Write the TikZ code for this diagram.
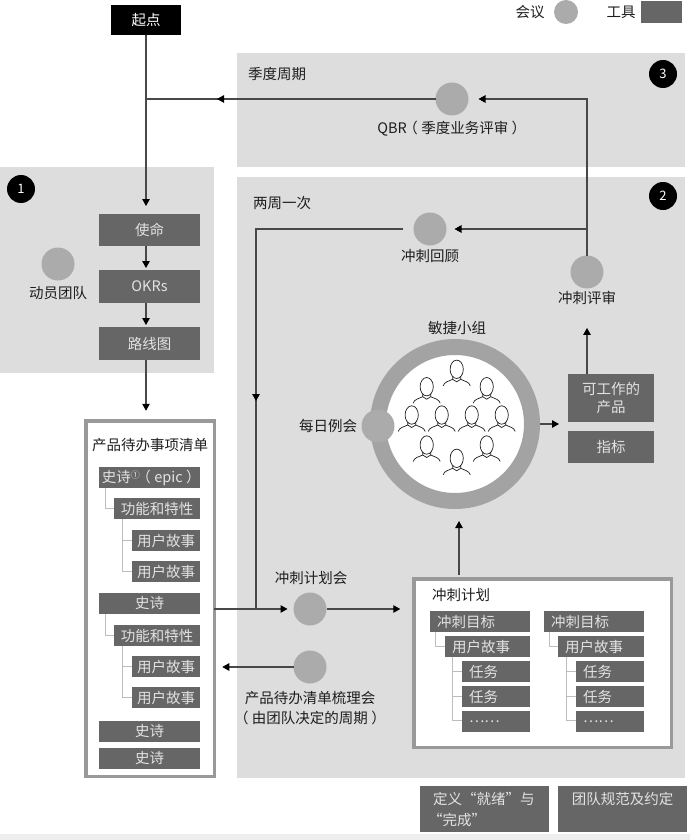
\documentclass[tikz,border=0pt]{standalone}
\usepackage{fontspec}
\setmainfont{Noto Sans CJK SC}
\usetikzlibrary{arrows.meta,calc}
\definecolor{regionc}{HTML}{DDDDDD}
\definecolor{toolc}{HTML}{666666}
\definecolor{meetc}{HTML}{ABABAB}
\definecolor{ringc}{HTML}{A3A3A3}
\definecolor{framec}{HTML}{999999}
\definecolor{treec}{HTML}{BDBDBD}
\definecolor{linec}{HTML}{484848}
\definecolor{inkc}{HTML}{1E1E1E}
\definecolor{paleTxt}{HTML}{E2E2E2}
\definecolor{stripc}{HTML}{EEEEEE}
\newcommand\lpar{\kern-3.5pt（\kern3.5pt}
\newcommand\rpar{\kern3.5pt）\kern-3.5pt}
\tikzset{
  region/.style={fill=regionc,draw=none},
  toolbox/.style={fill=toolc,draw=none,text=paleTxt,font=\fontsize{14.5}{18}\selectfont,inner sep=0pt,outer sep=0pt,align=center},
  meeting/.style={circle,fill=meetc,draw=none,minimum size=33pt,inner sep=0pt,outer sep=0pt},
  lab/.style={text=inkc,font=\fontsize{14.5}{20}\selectfont,inner sep=0pt,align=center},
  badge/.style={circle,fill=black,text=white,minimum size=28pt,inner sep=0pt,font=\fontsize{13}{13}\selectfont},
  frame/.style={draw=framec,line width=3.5pt,fill=white},
  conn/.style={draw=linec,line width=1.1pt},
  arrowconn/.style={conn,-{Triangle[length=7pt,width=7.5pt,color=black]}},
  treeline/.style={draw=treec,line width=0.9pt},
  personline/.style={draw=inkc,line width=0.7pt}
}
% name, x1, y1, x2, y2, text
\newcommand\cbox[6]{\node[toolbox,minimum width={(#4-#2)*1pt},minimum height={(#5-#3)*1pt}] (#1) at ({(#2+#4)/2},{(#3+#5)/2}) {#6};}
\newcommand\lbox[6]{\node[toolbox,align=left,text width={(#4-#2-14)*1pt},inner xsep=7pt,minimum height={(#5-#3)*1pt}] (#1) at ({(#2+#4)/2},{(#3+#5)/2}) {#6};}
\newcommand\personat[2]{\begin{scope}[shift={(#1,#2)}]
  \draw[personline] (0,0) ellipse (6.6 and 9.2);
  \draw[personline] (-13.5,16.5) .. controls (-12.5,12.5) and (-8,12) .. (-4,10) -- (-4,7);
  \draw[personline] (13.5,16.5) .. controls (12.5,12.5) and (8,12) .. (4,10) -- (4,7);
  \draw[personline] (-4,10) -- (0,12.5) -- (4,10);
\end{scope}}
\begin{document}
\begin{tikzpicture}[x=1pt,y=-1pt]
\useasboundingbox (0,0) rectangle (690,840);
\fill[white] (0,0) rectangle (690,840);
\fill[stripc] (0,834) rectangle (690,840);
% regions
\fill[region] (0,167) rectangle (214,373);
\fill[region] (237,53) rectangle (685,167);
\fill[region] (237,177) rectangle (685,778);
% legend
\node[lab] (legM) at (530,12) {会议};
\node[meeting,minimum size=24pt] (legC) at (566,12) {};
\node[lab] (legT) at (621,12) {工具};
\node[fill=toolc,minimum width=41pt,minimum height=22pt,inner sep=0pt,outer sep=0pt] (legB) at (661.5,12) {};
% badges
\node[badge] (b1) at (21,189) {1};
\node[badge] (b2) at (663,196) {2};
\node[badge] (b3) at (663,74) {3};
\node[lab,anchor=west] (q) at (248,74) {季度周期};
\node[lab,anchor=west] (biw) at (253,203) {两周一次};
% start and region 1
\node[fill=black,text=white,font=\fontsize{14.5}{18}\selectfont,minimum width=70pt,minimum height=30pt,inner sep=0pt,outer sep=0pt] (start) at (146,20) {起点};
\cbox{mission}{99}{214}{200}{246}{使命}
\cbox{okrs}{99}{270}{200}{303}{OKRs}
\cbox{roadmap}{99}{327}{200}{360}{路线图}
\node[meeting] (kick) at (58,264) {};
\node[lab] (kickL) at (58,293) {动员团队};
% meetings
\node[meeting] (qbr) at (452,99) {};
\node[lab] (qbrL) at (450,129) {QBR\lpar 季度业务评审\rpar};
\node[meeting] (retro) at (430,229) {};
\node[lab] (retroL) at (430,256) {冲刺回顾};
\node[meeting] (review) at (587,272) {};
\node[lab] (reviewL) at (587,298) {冲刺评审};
\node[meeting] (plan) at (310,609) {};
\node[lab] (planL) at (311,578) {冲刺计划会};
\node[meeting] (refine) at (310,667) {};
\node[lab] (refineL) at (310,708) {产品待办清单梳理会\\\lpar 由团队决定的周期\rpar};
% team ring
\node[circle,draw=ringc,line width=16pt,fill=white,minimum size=154pt,inner sep=0pt] (ring) at (455,424) {};
\node[lab] (teamL) at (457,328) {敏捷小组};
\personat{456.7}{369.3}
\personat{426.7}{386.7}
\personat{486.7}{386.7}
\personat{411.7}{415}
\personat{441.7}{415}
\personat{471.7}{415}
\personat{501.7}{415}
\personat{426.7}{445}
\personat{486.7}{445}
\personat{456.7}{458.3}
\node[meeting] (daily) at (378,426) {};
\node[lab] (dailyL) at (328,426) {每日例会};
% product
\cbox{product}{568}{374}{654}{422}{可工作的\\产品}
\cbox{metrics}{568}{431}{654}{463}{指标}
% backlog
\node[frame,minimum width=128.5pt,minimum height=355.5pt,inner sep=0pt,outer sep=0pt] (backlog) at (150,598.5) {};
\node[lab] (backlogL) at (150,445) {产品待办事项清单};
\draw[treeline] (105,488) |- (114,508);
\draw[treeline] (122,519) |- (132,571);
\draw[treeline] (122,540) -- (132,540);
\draw[treeline] (105,614) |- (114,635);
\draw[treeline] (122,646) |- (132,697);
\draw[treeline] (122,666) -- (132,666);
\cbox{e1}{99}{467}{200}{488}{史诗\raisebox{4pt}{\fontsize{9}{9}\selectfont ①}\lpar epic\rpar}
\cbox{f1}{114}{498}{200}{519}{功能和特性}
\cbox{s1}{132}{530}{200}{551}{用户故事}
\cbox{s2}{132}{561}{200}{582}{用户故事}
\cbox{e2}{99}{593}{200}{614}{史诗}
\cbox{f2}{114}{625}{200}{646}{功能和特性}
\cbox{s3}{132}{656}{200}{677}{用户故事}
\cbox{s4}{132}{687}{200}{708}{用户故事}
\cbox{e3}{99}{721}{200}{742}{史诗}
\cbox{e4}{99}{748}{200}{769}{史诗}
% sprint plan
\node[frame,minimum width=257.5pt,minimum height=168.5pt,inner sep=0pt,outer sep=0pt] (sprint) at (542.5,663) {};
\node[lab,anchor=west] (sprintL) at (432,595) {冲刺计划};
\draw[treeline] (435,632) |- (445,646);
\draw[treeline] (452,657) |- (462,720);
\draw[treeline] (452,671) -- (462,671);
\draw[treeline] (452,696) -- (462,696);
\draw[treeline] (549,632) |- (558,646);
\draw[treeline] (566,657) |- (576,720);
\draw[treeline] (566,671) -- (576,671);
\draw[treeline] (566,696) -- (576,696);
\lbox{g1}{430}{611}{530}{632}{冲刺目标}
\lbox{u1}{445}{636}{530}{657}{用户故事}
\lbox{t1}{462}{661}{530}{682}{任务}
\lbox{t2}{462}{686}{530}{707}{任务}
\lbox{t3}{462}{711}{530}{732}{……}
\lbox{g2}{544}{611}{644}{632}{冲刺目标}
\lbox{u2}{558}{636}{644}{657}{用户故事}
\lbox{t4}{576}{661}{644}{682}{任务}
\lbox{t5}{576}{686}{644}{707}{任务}
\lbox{t6}{576}{711}{644}{732}{……}
% bottom boxes
\node[toolbox,anchor=north west,align=left,text width=103pt,inner xsep=13pt,inner ysep=3pt,minimum height=46pt,font=\fontsize{14.5}{21}\selectfont] (dod) at (420,786) {定义“就绪”与\\\hspace*{-5pt}“完成”};
\node[toolbox,anchor=north west,text width=129pt,minimum height=46pt,inner ysep=3pt,align=center,font=\fontsize{14.5}{21}\selectfont] (norms) at (558,786) {团队规范及约定\\\mbox{}};
% connectors
\coordinate (trunk) at (start.south |- qbr.west);
\coordinate (tipQ) at (217,99);
\draw[conn] (qbr.west) -- (trunk);
\draw[arrowconn] (qbr.west) -- (tipQ);
\draw[arrowconn,shorten >=8pt] (start.south) -- (start.south |- mission.north);
\draw[arrowconn,shorten >=2pt] (start.south |- mission.south) -- (start.south |- okrs.north);
\draw[arrowconn,shorten >=2pt] (start.south |- okrs.south) -- (start.south |- roadmap.north);
\draw[arrowconn,shorten >=10pt] (start.south |- roadmap.south) -- (start.south |- backlog.north);
\coordinate (elbowQ) at (review.north |- qbr.east);
\coordinate (branch) at (review.north |- retro.east);
\draw[arrowconn,shorten >=10pt] (review.north) -- (elbowQ) -- (qbr.east);
\draw[arrowconn,shorten >=8pt] (branch) -- (retro.east);
\coordinate (retroOut) at ($(retro.west)+(-11,0)$);
\coordinate (corner) at (256,229);
\coordinate (junction) at (256,609);
\coordinate (tipDown) at (256,401);
\draw[conn] (retroOut) -- (corner) -- (junction);
\draw[arrowconn] (corner) -- (tipDown);
\draw[arrowconn,shorten >=6pt] (backlog.east |- plan.west) -- (plan.west);
\coordinate (sprintIn) at (sprint.west |- plan.east);
\draw[arrowconn,shorten >=13.5pt] (plan.east) -- (sprintIn);
\draw[arrowconn,shorten >=8pt] (refine.west) -- (backlog.east |- refine.west);
\coordinate (sprintTop) at (459,575);
\coordinate (ringBottom) at (459,508);
\draw[arrowconn,shorten >=13pt] (sprintTop) -- (ringBottom);
\draw[arrowconn,shorten >=9pt] (ring.east) -- (product.west |- ring.east);
\draw[arrowconn,shorten >=23pt] (review.south |- product.north) -- (review.south |- reviewL.south);
\end{tikzpicture}
\end{document}
